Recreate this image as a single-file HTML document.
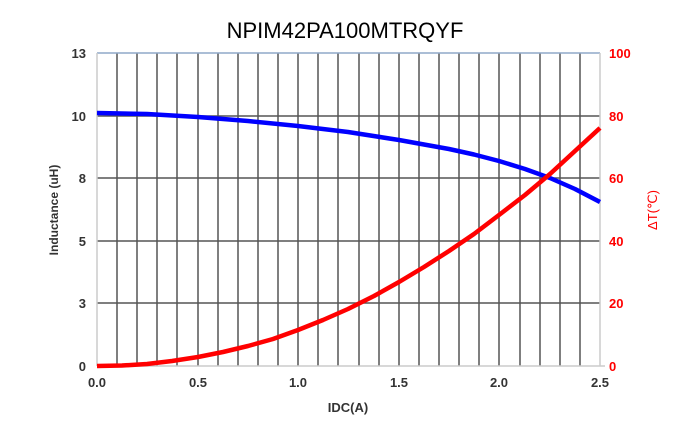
<!DOCTYPE html>
<html><head><meta charset="utf-8"><style>
body{margin:0;background:#fff;}
svg{display:block;font-family:"Liberation Sans",Arial,sans-serif;}
</style></head><body>
<svg width="690" height="435" viewBox="0 0 690 435">
<text x="345" y="38" text-anchor="middle" font-size="22" fill="#000">NPIM42PA100MTRQYF</text>
<g stroke="#555" stroke-width="1.5">
<line x1="117" y1="53" x2="117" y2="366"/><line x1="137" y1="53" x2="137" y2="366"/><line x1="157" y1="53" x2="157" y2="366"/><line x1="177" y1="53" x2="177" y2="366"/><line x1="198" y1="53" x2="198" y2="366"/><line x1="218" y1="53" x2="218" y2="366"/><line x1="238" y1="53" x2="238" y2="366"/><line x1="258" y1="53" x2="258" y2="366"/><line x1="278" y1="53" x2="278" y2="366"/><line x1="298" y1="53" x2="298" y2="366"/><line x1="318" y1="53" x2="318" y2="366"/><line x1="338" y1="53" x2="338" y2="366"/><line x1="359" y1="53" x2="359" y2="366"/><line x1="379" y1="53" x2="379" y2="366"/><line x1="399" y1="53" x2="399" y2="366"/><line x1="419" y1="53" x2="419" y2="366"/><line x1="439" y1="53" x2="439" y2="366"/><line x1="459" y1="53" x2="459" y2="366"/><line x1="479" y1="53" x2="479" y2="366"/><line x1="499" y1="53" x2="499" y2="366"/><line x1="520" y1="53" x2="520" y2="366"/><line x1="540" y1="53" x2="540" y2="366"/><line x1="560" y1="53" x2="560" y2="366"/><line x1="580" y1="53" x2="580" y2="366"/>
<line x1="97" y1="116" x2="600" y2="116"/><line x1="97" y1="178" x2="600" y2="178"/><line x1="97" y1="241" x2="600" y2="241"/><line x1="97" y1="303" x2="600" y2="303"/>
</g>
<line x1="97" y1="53" x2="600" y2="53" stroke="#8fa8c8" stroke-width="1.5"/>
<g stroke="#ccc" stroke-width="1.5"><line x1="97" y1="53" x2="97" y2="366"/><line x1="600" y1="53" x2="600" y2="366"/><line x1="97" y1="366" x2="605" y2="366"/></g>
<polyline fill="none" stroke="#0000ff" stroke-width="4.5" stroke-linejoin="round" points="97,113 147,114 198,117 248,121 298,126 348,132 399,140 449,149 474,154.5 499,161 525,169 550,178 575,189 600,202"/>
<polyline fill="none" stroke="#ff0000" stroke-width="4.5" stroke-linejoin="round" points="97,366 122,365.5 147,364 172,361 198,357 223,352 248,346 273,339 298,330 323,320 348,309 374,296 399,282 424,267 449,251 474,234 499,215 525,195 550,174 575,151 600,128"/>
<g font-size="13" font-weight="bold" fill="#333" text-anchor="end">
<text x="86" y="58">13</text><text x="86" y="121">10</text><text x="86" y="183">8</text><text x="86" y="246">5</text><text x="86" y="308">3</text><text x="86" y="371">0</text>
</g>
<g font-size="13" font-weight="bold" fill="#ff0000">
<text x="609" y="58">100</text><text x="609" y="121">80</text><text x="609" y="183">60</text><text x="609" y="246">40</text><text x="609" y="308">20</text><text x="609" y="371">0</text>
</g>
<g font-size="13" font-weight="bold" fill="#333" text-anchor="middle">
<text x="97" y="387">0.0</text><text x="198" y="387">0.5</text><text x="298" y="387">1.0</text><text x="399" y="387">1.5</text><text x="499" y="387">2.0</text><text x="600" y="387">2.5</text>
<text x="348" y="412">IDC(A)</text>
</g>
<text transform="translate(58,210) rotate(-90)" text-anchor="middle" font-size="12" font-weight="bold" fill="#333">Inductance  (uH)</text>
<text transform="translate(657,210) rotate(-90)" text-anchor="middle" font-size="13" fill="#ff0000">ΔT(℃)</text>
</svg>
</body></html>
